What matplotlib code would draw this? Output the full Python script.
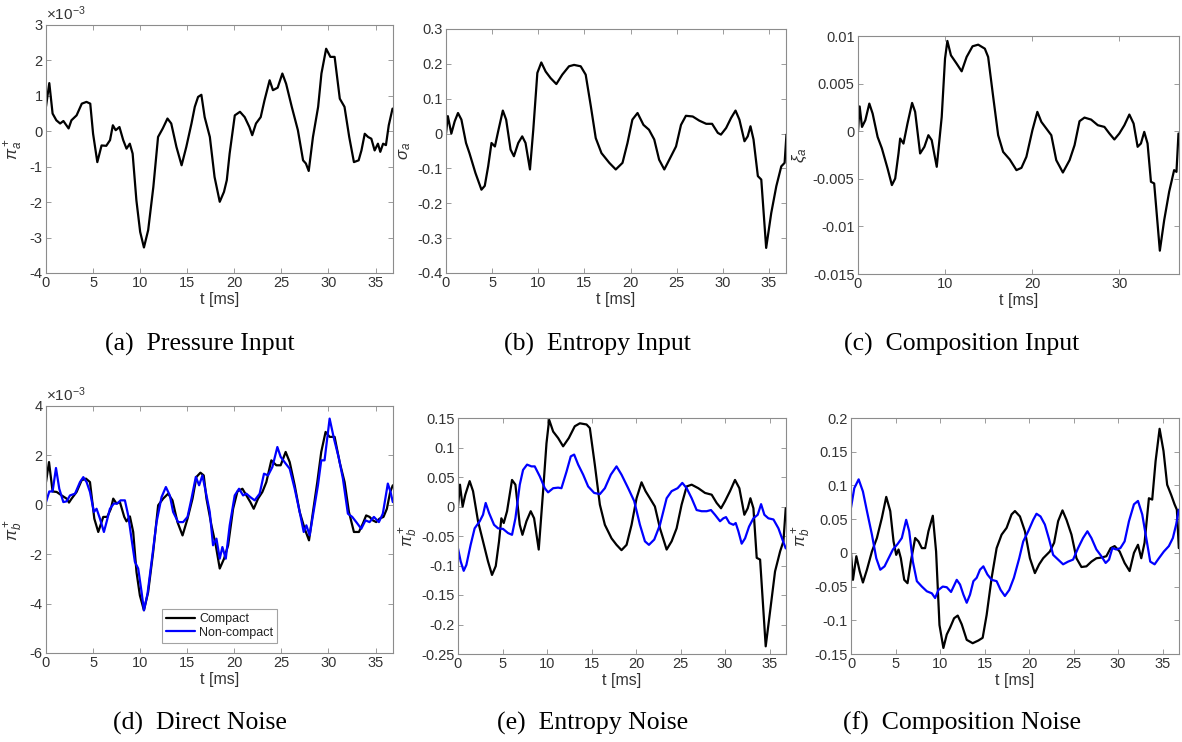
import matplotlib
matplotlib.use('Agg')
import matplotlib.pyplot as plt
import numpy as np

plt.rcParams['font.family'] = 'Liberation Sans'
plt.rcParams['mathtext.fontset'] = 'custom'
plt.rcParams['mathtext.rm'] = 'Liberation Sans'
plt.rcParams['mathtext.it'] = 'Liberation Sans:italic'
plt.rcParams['axes.unicode_minus'] = False
plt.rcParams['lines.solid_joinstyle'] = 'round'
plt.rcParams['lines.solid_capstyle'] = 'round'

# (a) pressure input, values in 1e-3
t_a = [0, 0.35, 0.7, 1.1, 1.5, 1.85, 2.4, 2.7, 3.25, 3.8, 4.3, 4.7, 5.0, 5.45, 5.9, 6.4, 6.8, 7.1, 7.4, 7.8,
       8.2, 8.55, 8.9, 9.2, 9.6, 10.0, 10.4, 10.85, 11.4, 11.9, 12.4, 12.9, 13.3, 13.85, 14.4, 14.9, 15.45,
       15.8, 16.15, 16.5, 16.85, 17.4, 17.9, 18.45, 18.9, 19.2, 19.5, 20.05, 20.6, 21.1, 21.6, 21.9, 22.3,
       22.8, 23.2, 23.75, 24.1, 24.6, 25.1, 25.5, 26.1, 26.75, 27.3, 27.6, 27.9, 28.35, 28.9, 29.25, 29.75,
       30.2, 30.65, 31.2, 31.7, 32.2, 32.7, 33.2, 33.5, 33.85, 34.2, 34.55, 34.9, 35.25, 35.5, 35.8, 36.1,
       36.4, 36.8]
p_a = [0.70, 1.36, 0.50, 0.31, 0.22, 0.29, 0.08, 0.31, 0.45, 0.78, 0.83, 0.78, -0.07, -0.87, -0.40, -0.41,
       -0.25, 0.17, 0.03, 0.12, -0.25, -0.49, -0.35, -0.63, -1.95, -2.84, -3.28, -2.79, -1.57, -0.16, 0.08,
       0.36, 0.22, -0.44, -0.96, -0.44, 0.22, 0.69, 0.97, 1.03, 0.40, -0.16, -1.29, -1.99, -1.71, -1.38,
       -0.63, 0.45, 0.55, 0.40, 0.12, -0.11, 0.22, 0.40, 0.87, 1.44, 1.16, 1.23, 1.63, 1.34, 0.69, 0.03,
       -0.82, -0.91, -1.12, -0.16, 0.69, 1.63, 2.33, 2.10, 2.10, 0.92, 0.69, -0.16, -0.87, -0.82, -0.54,
       -0.07, -0.16, -0.21, -0.54, -0.35, -0.58, -0.35, -0.39, 0.17, 0.64]

# (b) entropy input
t_b = [0, 0.2, 0.58, 0.94, 1.3, 1.67, 2.17, 2.54, 3.19, 3.84, 4.2, 4.57, 4.93, 5.3, 5.65, 6.16, 6.52, 7.0,
       7.36, 7.83, 8.26, 8.62, 9.1, 9.46, 9.9, 10.33, 10.8, 11.34, 11.96, 12.6, 13.33, 13.88, 14.6, 15.14,
       15.7, 16.23, 16.85, 17.7, 18.4, 19.13, 19.67, 20.2, 20.76, 21.4, 22.0, 22.57, 23.1, 23.66, 24.2,
       24.93, 25.47, 26.0, 26.74, 27.46, 28.2, 28.84, 29.46, 29.8, 30.36, 30.9, 31.38, 31.8, 32.35, 32.7,
       33.0, 33.33, 33.8, 34.17, 34.7, 35.25, 35.8, 36.34, 36.7, 36.9]
s_b = [0.0, 0.05, 0.0, 0.035, 0.059, 0.04, -0.027, -0.056, -0.113, -0.161, -0.15, -0.094, -0.027, -0.037,
       0.006, 0.066, 0.04, -0.046, -0.065, -0.027, -0.008, -0.027, -0.103, 0.011, 0.174, 0.204, 0.178,
       0.159, 0.142, 0.169, 0.193, 0.197, 0.193, 0.169, 0.078, -0.013, -0.056, -0.084, -0.103, -0.084,
       -0.027, 0.040, 0.059, 0.025, 0.011, -0.017, -0.075, -0.103, -0.075, -0.037, 0.025, 0.051, 0.049,
       0.037, 0.028, 0.028, 0.002, -0.003, 0.016, 0.045, 0.066, 0.040, -0.022, -0.008, 0.021, -0.017,
       -0.122, -0.132, -0.328, -0.228, -0.151, -0.094, -0.084, -0.003]

# (c) composition input, values in 1e-3
t_c = [0, 0.19, 0.46, 0.84, 1.3, 1.68, 2.25, 2.74, 3.39, 3.89, 4.27, 4.65, 4.84, 5.22, 5.68, 6.21, 6.56,
       7.13, 7.62, 8.08, 8.46, 9.04, 9.61, 9.99, 10.26, 10.67, 11.32, 11.9, 12.47, 13.15, 13.8, 14.56,
       14.94, 15.52, 16.09, 16.66, 17.42, 18.19, 18.76, 19.33, 20.02, 20.59, 21.05, 21.62, 22.19, 22.76,
       23.52, 24.29, 24.86, 25.43, 26.0, 26.76, 27.53, 28.29, 28.86, 29.43, 30.0, 30.58, 31.15, 31.64,
       32.1, 32.48, 32.86, 33.24, 33.63, 34.0, 34.65, 35.15, 35.72, 36.29, 36.56, 36.79]
x_c = [0, 2.6, 0.45, 1.15, 2.9, 1.85, -0.6, -1.8, -3.9, -5.66, -4.97, -2.34, -0.77, -1.3, 0.8, 2.97, 2.03,
       -2.34, -1.64, -0.42, -0.94, -3.74, 1.5, 7.62, 9.48, 7.97, 7.1, 6.29, 7.8, 8.92, 9.09, 8.67, 7.8, 3.6,
       -0.42, -2.17, -2.97, -4.09, -3.85, -2.69, 0.1, 2.03, 0.98, 0.28, -0.42, -3.04, -4.34, -3.04, -1.47,
       1.05, 1.43, 1.22, 0.63, 0.45, -0.24, -0.87, -0.24, 0.63, 1.75, 0.8, -1.64, -1.29, -0.07, -1.29,
       -5.31, -5.49, -12.55, -9.34, -6.36, -4.09, -4.27, -0.24]

# (d) direct noise, values in 1e-3
t_d1 = [0, 0.32, 0.7, 1.13, 1.66, 2.19, 2.44, 2.72, 3.25, 3.78, 4.24, 4.67, 5.13, 5.55, 6.08, 6.5, 6.89,
        7.14, 7.49, 7.85, 8.31, 8.55, 8.91, 9.26, 9.61, 9.97, 10.4, 10.85, 11.38, 11.91, 12.44, 12.97,
        13.43, 13.96, 14.5, 15.03, 15.56, 15.98, 16.4, 16.75, 17.04, 17.57, 18.03, 18.45, 18.91, 19.34,
        19.87, 20.33, 20.86, 21.28, 21.7, 22.06, 22.52, 22.98, 23.4, 23.93, 24.46, 24.92, 25.45, 25.88,
        26.41, 26.94, 27.47, 27.93, 28.35, 28.81, 29.23, 29.69, 30.12, 30.65, 31.18, 31.71, 32.17, 32.7,
        33.23, 33.65, 34.0, 34.36, 34.71, 35.07, 35.42, 35.84, 36.2, 36.55, 36.83]
d_compact = [0.92, 1.73, 0.54, 0.52, 0.38, 0.25, 0.09, 0.25, 0.52, 0.99, 1.06, 0.92, -0.56, -1.1, -0.49,
             -0.49, -0.16, 0.25, 0.05, 0.11, -0.49, -0.67, -0.47, -1.1, -2.72, -3.67, -4.27, -3.53, -1.91,
             -0.02, 0.25, 0.45, 0.18, -0.7, -1.24, -0.56, 0.25, 1.13, 1.3, 1.19, 0.25, -0.83, -1.64, -2.58,
             -2.18, -1.64, -0.16, 0.54, 0.65, 0.38, 0.11, -0.16, 0.25, 0.52, 0.92, 1.8, 1.6, 1.6, 2.14,
             1.73, 0.79, -0.29, -0.97, -1.44, -0.29, 0.92, 2.14, 2.95, 2.75, 2.75, 1.73, 0.92, -0.29, -1.1,
             -1.1, -0.76, -0.43, -0.49, -0.63, -0.7, -0.56, -0.49, -0.16, 0.52, 0.79]
t_d2 = [0, 0.35, 0.7, 1.06, 1.41, 1.84, 2.19, 2.55, 3.08, 3.61, 3.96, 4.31, 4.67, 5.09, 5.37, 5.73, 6.15,
        6.43, 6.79, 7.21, 7.56, 7.92, 8.38, 8.73, 9.08, 9.44, 9.79, 10.15, 10.4, 10.78, 11.21, 11.74,
        12.27, 12.73, 13.15, 13.5, 14.03, 14.56, 15.03, 15.45, 15.91, 16.26, 16.61, 16.97, 17.39, 17.74,
        18.1, 18.45, 18.73, 19.09, 19.51, 20.04, 20.5, 20.93, 21.28, 21.7, 22.16, 22.69, 23.15, 23.58,
        24.04, 24.57, 24.92, 25.45, 25.88, 26.41, 26.94, 27.37, 27.65, 28.0, 28.35, 28.88, 29.23, 29.58,
        30.12, 30.58, 31.11, 31.53, 32.06, 32.52, 32.95, 33.48, 33.93, 34.36, 34.82, 35.35, 35.77, 36.3,
        36.59, 36.83]
d_noncompact = [0.11, 0.54, 0.54, 1.49, 0.65, 0.11, 0.14, 0.38, 0.45, 0.92, 1.12, 0.92, 0.52, -0.29,
                -0.16, -0.56, -1.1, -0.7, -0.16, 0.05, 0.05, 0.18, 0.18, -0.43, -1.37, -2.31, -2.58,
                -3.53, -4.27, -3.6, -2.31, -0.7, 0.31, 0.72, 0.38, -0.29, -0.7, -0.7, -0.49, 0.25, 1.13,
                0.79, 1.19, 0.52, -0.29, -1.64, -1.37, -2.18, -1.71, -2.18, -0.83, 0.38, 0.65, 0.38, 0.45,
                0.31, 0.18, 0.45, 1.26, 1.19, 1.53, 2.34, 1.94, 1.67, 1.46, 0.65, -0.29, -1.1, -0.83,
                -1.24, -0.43, 0.79, 1.8, 1.8, 3.49, 2.68, 1.87, 1.06, -0.36, -0.49, -0.7, -0.97, -0.63,
                -0.7, -0.49, -0.7, -0.36, 0.86, 0.52, 0.11]

# (e) entropy noise
t_e1 = [0, 0.22, 0.52, 0.82, 1.31, 1.69, 2.25, 2.81, 3.37, 3.82, 4.24, 4.61, 4.87, 5.14, 5.51, 6.07, 6.45,
        6.94, 7.24, 7.69, 8.17, 8.55, 9.07, 9.56, 9.94, 10.24, 10.69, 11.25, 11.81, 12.45, 13.12, 13.69,
        14.44, 14.81, 15.37, 15.94, 16.5, 17.25, 17.81, 18.37, 18.94, 19.5, 20.06, 20.62, 21.07, 21.56,
        22.12, 22.69, 23.44, 24.0, 24.56, 25.12, 25.69, 26.25, 27.0, 27.75, 28.5, 29.06, 29.55, 30.0,
        30.56, 31.12, 31.61, 32.17, 32.55, 32.85, 33.19, 33.56, 33.94, 34.57, 35.06, 35.62, 36.19, 36.56,
        36.82]
e_compact = [0.0, 0.037, 0.0, 0.02, 0.043, 0.026, -0.025, -0.059, -0.093, -0.116, -0.101, -0.059, -0.02,
             -0.028, -0.008, 0.045, 0.037, -0.031, -0.048, -0.025, -0.008, -0.02, -0.073, 0.026, 0.107,
             0.147, 0.127, 0.116, 0.102, 0.116, 0.136, 0.141, 0.139, 0.133, 0.071, 0.003, -0.031, -0.054,
             -0.065, -0.074, -0.065, -0.031, 0.014, 0.041, 0.026, 0.014, 0.0, -0.037, -0.073, -0.059,
             -0.037, 0.003, 0.034, 0.037, 0.031, 0.023, 0.02, 0.006, -0.003, 0.009, 0.026, 0.045, 0.031,
             -0.014, -0.003, 0.014, -0.003, -0.087, -0.09, -0.237, -0.178, -0.11, -0.076, -0.059, -0.003]
t_e2 = [0, 0.3, 0.64, 0.94, 1.42, 1.87, 2.44, 2.81, 3.11, 3.49, 4.05, 4.5, 5.06, 5.62, 6.07, 6.45, 6.94,
        7.31, 7.76, 8.25, 8.62, 9.19, 9.75, 10.12, 10.69, 11.25, 11.62, 12.19, 12.67, 13.05, 13.5, 14.06,
        14.62, 15.3, 15.94, 16.5, 17.17, 17.81, 18.37, 19.12, 19.8, 20.44, 21.0, 21.45, 22.05, 22.69,
        23.44, 24.0, 24.67, 25.2, 25.69, 26.25, 26.81, 27.37, 27.94, 28.42, 28.87, 29.44, 29.81, 30.11,
        30.49, 30.94, 31.2, 31.5, 31.87, 32.25, 32.7, 33.19, 33.67, 34.05, 34.42, 34.87, 35.44, 36.0,
        36.45, 36.82]
e_noncompact = [-0.071, -0.093, -0.109, -0.099, -0.065, -0.037, -0.025, -0.014, 0.006, -0.011, -0.031,
                -0.037, -0.038, -0.045, -0.048, -0.02, 0.037, 0.062, 0.071, 0.068, 0.068, 0.051, 0.031,
                0.024, 0.031, 0.032, 0.031, 0.059, 0.085, 0.088, 0.071, 0.054, 0.034, 0.023, 0.021, 0.031,
                0.054, 0.068, 0.054, 0.031, 0.009, -0.031, -0.059, -0.065, -0.056, -0.031, 0.014, 0.026,
                0.031, 0.04, 0.031, 0.014, -0.006, -0.008, -0.008, -0.006, -0.014, -0.025, -0.02, -0.018,
                -0.028, -0.031, -0.028, -0.042, -0.063, -0.054, -0.034, -0.02, -0.014, 0.004, -0.014,
                -0.02, -0.022, -0.037, -0.056, -0.071]

# (f) composition noise
t_f1 = [0, 0.22, 0.6, 0.97, 1.34, 1.79, 2.35, 2.91, 3.47, 3.96, 4.41, 4.78, 5.08, 5.34, 5.6, 5.98, 6.35,
        6.72, 7.21, 7.58, 7.96, 8.33, 8.7, 9.19, 9.56, 9.94, 10.38, 10.76, 11.13, 11.58, 11.99, 12.44, 13.0,
        13.67, 14.31, 14.79, 15.24, 15.8, 16.36, 16.92, 17.48, 18.04, 18.42, 18.98, 19.54, 20.1, 20.66,
        21.14, 21.59, 22.34, 22.82, 23.27, 23.76, 24.21, 24.77, 25.33, 25.89, 26.45, 27.01, 27.57, 28.13,
        28.69, 29.17, 29.62, 30.18, 30.74, 31.3, 31.79, 32.24, 32.61, 32.98, 33.47, 33.84, 34.22, 34.67,
        35.11, 35.52, 35.97, 36.35, 36.61, 36.83]
f_compact = [0.0, -0.04, -0.005, -0.027, -0.044, -0.025, 0.002, 0.022, 0.052, 0.083, 0.062, 0.017, -0.003,
             0.005, -0.008, -0.04, -0.045, -0.013, 0.022, 0.017, 0.007, 0.007, 0.032, 0.055, 0.002, -0.107,
             -0.141, -0.121, -0.111, -0.097, -0.093, -0.106, -0.129, -0.134, -0.13, -0.126, -0.092, -0.037,
             0.007, 0.027, 0.037, 0.057, 0.062, 0.054, 0.032, -0.008, -0.03, -0.017, -0.008, 0.002, 0.015,
             0.047, 0.063, 0.049, 0.027, -0.008, -0.021, -0.02, -0.013, -0.008, -0.007, -0.005, 0.007,
             0.01, 0.002, -0.015, -0.027, 0.0, 0.012, -0.008, 0.015, 0.081, 0.079, 0.136, 0.184, 0.151,
             0.101, 0.086, 0.072, 0.064, 0.007]
t_f2 = [0, 0.37, 0.86, 1.34, 1.79, 2.35, 2.84, 3.29, 3.77, 4.22, 4.71, 5.23, 5.71, 6.2, 6.54, 6.95, 7.4,
        7.96, 8.52, 9.08, 9.45, 9.82, 10.31, 10.76, 11.24, 11.88, 12.25, 12.63, 13.0, 13.37, 13.75, 14.12,
        14.49, 14.87, 15.32, 15.8, 16.36, 16.81, 17.29, 17.78, 18.3, 18.9, 19.35, 19.91, 20.47, 20.84,
        21.29, 21.78, 22.26, 22.71, 23.27, 23.83, 24.39, 24.95, 25.51, 26.07, 26.56, 27.01, 27.57, 28.13,
        28.61, 28.99, 29.36, 29.81, 30.26, 30.74, 31.23, 31.79, 32.24, 32.72, 33.17, 33.62, 34.11, 34.59,
        35.15, 35.71, 36.16, 36.53, 36.83]
f_noncompact = [0.067, 0.096, 0.109, 0.091, 0.062, 0.027, -0.008, -0.025, -0.02, -0.008, 0.005, 0.013,
                0.022, 0.049, 0.032, -0.013, -0.042, -0.05, -0.057, -0.06, -0.067, -0.055, -0.05, -0.051,
                -0.058, -0.04, -0.047, -0.062, -0.074, -0.062, -0.042, -0.037, -0.025, -0.02, -0.032,
                -0.04, -0.042, -0.055, -0.064, -0.055, -0.037, -0.008, 0.017, 0.032, 0.049, 0.058, 0.054,
                0.042, 0.02, -0.003, -0.01, -0.017, -0.013, -0.01, 0.007, 0.022, 0.032, 0.022, 0.005,
                -0.005, -0.015, -0.01, 0.007, 0.005, 0.007, 0.017, 0.047, 0.072, 0.077, 0.057, 0.022,
                -0.013, -0.017, -0.008, 0.002, 0.01, 0.022, 0.042, 0.064]

W, H = 1182, 742
fig = plt.figure(figsize=(W / 100, H / 100), dpi=100)

tick_col = '#333333'
box_col = '#8c8c8c'


def make_axes(left, top, right, bottom):
    ax = fig.add_axes([left / W, 1 - bottom / H, (right - left) / W, (bottom - top) / H])
    for s in ax.spines.values():
        s.set_color(box_col)
        s.set_linewidth(0.8)
    ax.tick_params(direction='in', top=True, right=True, length=3.5, width=0.6,
                   color=box_col, labelcolor=tick_col, labelsize=10.5, pad=2.5)
    ax.set_xlim(0, 36.85)
    ax.set_xlabel('t [ms]', fontsize=11.5, color=tick_col, labelpad=1)
    return ax


def set_yticks(ax, ticks, labels):
    ax.set_ylim(ticks[0], ticks[-1])
    ax.set_yticks(ticks)
    ax.set_yticklabels(labels)


def caption(x, y, s):
    fig.text(x / W, 1 - y / H, s, ha='center', va='center', fontsize=18.5,
             family='Liberation Serif', color='black')


xt5 = [0, 5, 10, 15, 20, 25, 30, 35]

# (a)
ax = make_axes(46, 25, 393, 273)
ax.plot(t_a, p_a, color='black', lw=1.6)
set_yticks(ax, [-4, -3, -2, -1, 0, 1, 2, 3], ['-4', '-3', '-2', '-1', '0', '1', '2', '3'])
ax.set_xticks(xt5)
ax.set_ylabel(r'$\pi_a^+$', fontsize=12, color=tick_col, labelpad=3)
ax.text(0.0, 1.01, r'$\times10^{-3}$', transform=ax.transAxes, fontsize=11, color=tick_col,
        ha='left', va='bottom')
caption(200, 344, '(a)  Pressure Input')

# (b)
ax = make_axes(446, 29, 786, 273)
ax.plot(t_b, s_b, color='black', lw=1.6)
set_yticks(ax, [-0.4, -0.3, -0.2, -0.1, 0, 0.1, 0.2, 0.3],
           ['-0.4', '-0.3', '-0.2', '-0.1', '0', '0.1', '0.2', '0.3'])
ax.set_xticks(xt5)
ax.set_ylabel(r'$\sigma_a$', fontsize=12, color=tick_col, labelpad=3)
caption(597, 344, '(b)  Entropy Input')

# (c)
ax = make_axes(858, 36, 1179, 274)
ax.plot(t_c, x_c, color='black', lw=1.6)
set_yticks(ax, [-15, -10, -5, 0, 5, 10], ['-0.015', '-0.01', '-0.005', '0', '0.005', '0.01'])
ax.set_xticks([0, 10, 20, 30])
ax.set_ylabel(r'$\xi_a$', fontsize=12, color=tick_col, labelpad=3)
caption(962, 344, '(c)  Composition Input')

# (d)
ax = make_axes(46, 406, 393, 653)
ax.plot(t_d1, d_compact, color='black', lw=1.6, label='Compact')
ax.plot(t_d2, d_noncompact, color='#0000ff', lw=1.6, label='Non-compact')
set_yticks(ax, [-6, -4, -2, 0, 2, 4], ['-6', '-4', '-2', '0', '2', '4'])
ax.set_xticks(xt5)
ax.set_ylabel(r'$\pi_b^+$', fontsize=12, color=tick_col, labelpad=3)
ax.text(0.0, 1.01, r'$\times10^{-3}$', transform=ax.transAxes, fontsize=11, color=tick_col,
        ha='left', va='bottom')
leg = ax.legend(loc='lower left', bbox_to_anchor=((162 - 46) / 347, (653 - 643) / 247),
                fontsize=9, frameon=True, fancybox=False, borderpad=0.35, handlelength=2.3,
                handletextpad=0.3, labelspacing=0.1, borderaxespad=0)
leg.get_frame().set_edgecolor(box_col)
leg.get_frame().set_linewidth(0.8)
for txt in leg.get_texts():
    txt.set_color('#222222')
caption(200, 723, '(d)  Direct Noise')

# (e)
ax = make_axes(458, 418, 786, 654)
ax.plot(t_e1, e_compact, color='black', lw=1.6)
ax.plot(t_e2, e_noncompact, color='#0000ff', lw=1.6)
set_yticks(ax, [-0.25, -0.2, -0.15, -0.1, -0.05, 0, 0.05, 0.1, 0.15],
           ['-0.25', '-0.2', '-0.15', '-0.1', '-0.05', '0', '0.05', '0.1', '0.15'])
ax.set_xticks(xt5)
ax.set_ylabel(r'$\pi_b^+$', fontsize=12, color=tick_col, labelpad=1)
caption(593, 723, '(e)  Entropy Noise')

# (f)
ax = make_axes(851, 418, 1179, 654)
ax.plot(t_f1, f_compact, color='black', lw=1.6)
ax.plot(t_f2, f_noncompact, color='#0000ff', lw=1.6)
set_yticks(ax, [-0.15, -0.1, -0.05, 0, 0.05, 0.1, 0.15, 0.2],
           ['-0.15', '-0.1', '-0.05', '0', '0.05', '0.1', '0.15', '0.2'])
ax.set_xticks(xt5)
ax.set_ylabel(r'$\pi_b^+$', fontsize=12, color=tick_col, labelpad=1)
caption(962, 723, '(f)  Composition Noise')

fig.savefig('out.png', dpi=100)
